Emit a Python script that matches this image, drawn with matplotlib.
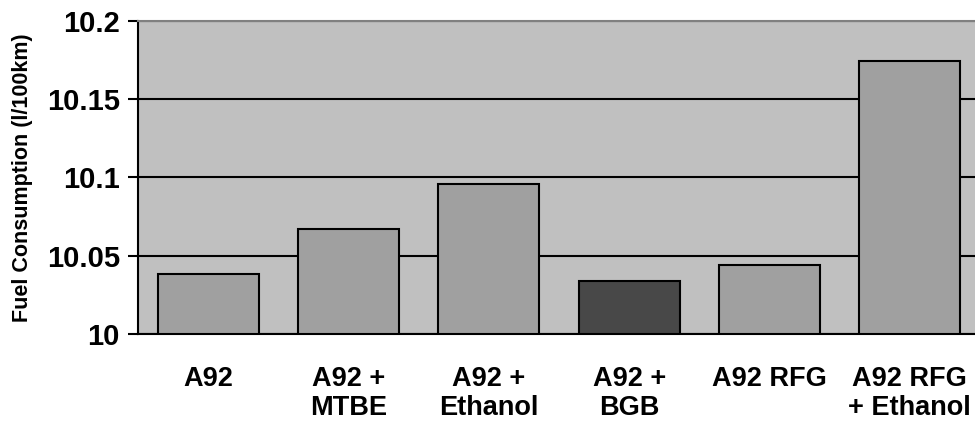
import numpy as np
import matplotlib.pyplot as plt

fuels = ['A92', 'A92 +\nMTBE', 'A92 +\nEthanol', 'A92 +\nBGB', 'A92 RFG', 'A92 RFG\n+ Ethanol']
consumption = [10.038, 10.067, 10.096, 10.034, 10.044, 10.174]
bar_colors = ['#a0a0a0', '#a0a0a0', '#a0a0a0', '#484848', '#a0a0a0', '#a0a0a0']
yticks = [10, 10.05, 10.1, 10.15, 10.2]
ytick_labels = ['10', '10.05', '10.1', '10.15', '10.2']

plt.rcParams['font.family'] = ['Liberation Sans', 'DejaVu Sans']
plt.rcParams['font.weight'] = 'bold'

fig = plt.figure(figsize=(9.75, 4.26), dpi=100)
ax = fig.add_axes([138 / 975, 92 / 426, 842 / 975, 313.5 / 426])
ax.set_facecolor('#c0c0c0')

x = np.arange(len(fuels))
base = yticks[0]
ax.bar(x, np.array(consumption) - base, bottom=base, width=0.72,
       color=bar_colors, edgecolor='black', linewidth=1.5, zorder=3)

ax.set_xlim(-0.5, len(fuels) - 0.5)
ax.set_ylim(yticks[0], yticks[-1])
ax.set_yticks(yticks)
ax.set_yticklabels(ytick_labels, fontsize=21, fontweight='bold')
ax.set_xticks(x)
ax.set_xticklabels(fuels, fontsize=19.5, fontweight='bold', linespacing=1.15)
ax.tick_params(axis='x', length=0, pad=23)
ax.tick_params(axis='y', length=7, width=1.5, pad=6, direction='out')
ax.yaxis.grid(True, color='black', linewidth=1.5, zorder=1)
ax.set_axisbelow(True)

for s in ['left', 'bottom']:
    ax.spines[s].set_linewidth(1.5)
ax.spines['top'].set_color('#808080')
ax.spines['top'].set_linewidth(1.5)
ax.spines['right'].set_visible(False)

ax.set_ylabel('Fuel Consumption (l/100km)', fontsize=15.5, fontweight='bold', labelpad=10)

fig.savefig('out.png', dpi=100)
